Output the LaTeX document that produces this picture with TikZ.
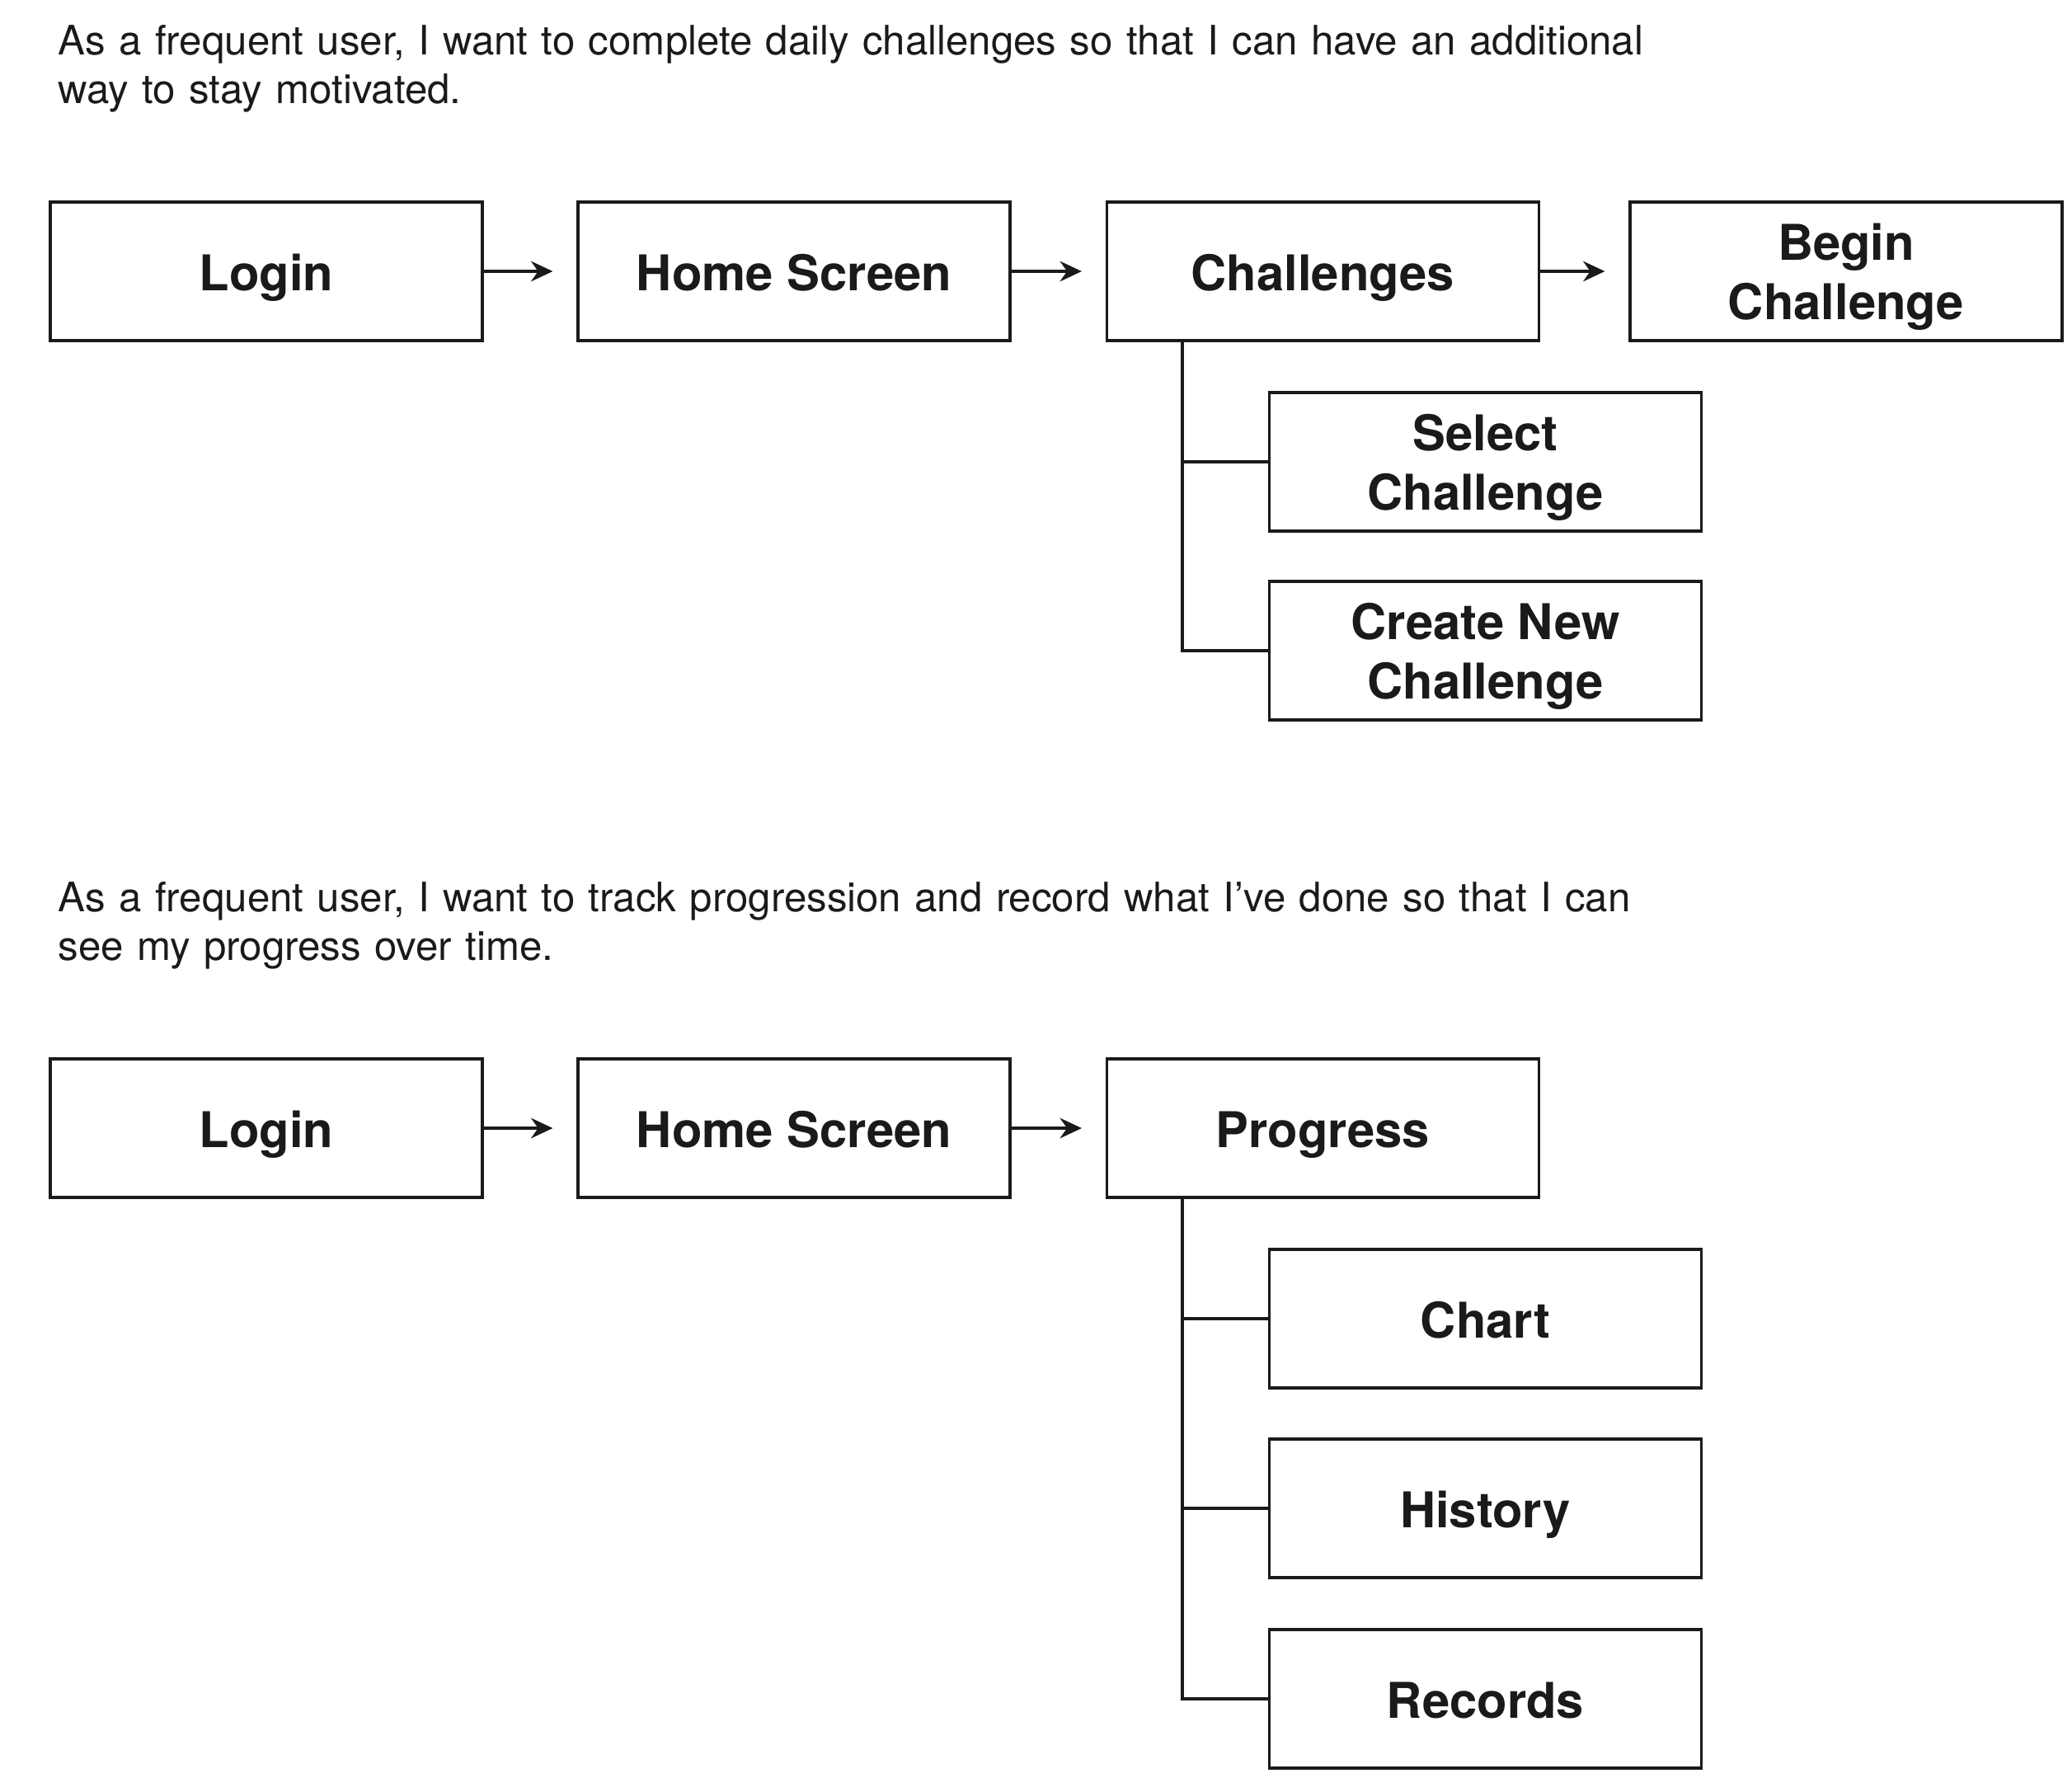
\documentclass[tikz,border=0pt]{standalone}
\usepackage{fontspec}
\setmainfont{TeX Gyre Heros}
\usetikzlibrary{arrows.meta}
\definecolor{ink}{HTML}{1A1A1A}

\begin{document}
\begin{tikzpicture}[screen/.style={rectangle, draw=ink, line width=0.9pt, minimum width=5.24cm,
                    minimum height=1.68cm, align=center, text=ink,
                    font=\fontsize{17}{20.5}\selectfont\bfseries,
                    text height=16.7pt, text depth=3.6pt},
                twoline/.style={screen, text height=37.1pt},
                story/.style={anchor=north west, inner sep=0pt, text width=21cm, align=left, text=ink,
                    font=\fontsize{14}{16.8}\selectfont},
                every edge/.style={draw=ink, line width=0.9pt, -{Stealth[length=7.5pt,width=7pt]}, shorten >=0.29cm},
                branch/.style={draw=ink, line width=0.9pt}]

                \useasboundingbox (0,0) rectangle (25.13,-21.55);

                % first story
                \node[story] (story1) at (0.70,-0.30) {As a frequent user, I want to complete daily challenges so that I can have an additional\\way to stay motivated.};

                \node[screen] (login1) at (3.23,-3.29) {Login};
                \node[screen] (home1) at (9.63,-3.29) {Home Screen};
                \node[screen] (chal) at (16.045,-3.29) {Challenges};
                \node[twoline] (begin) at (22.39,-3.29) {Begin\\Challenge};
                \node[twoline] (select) at (18.015,-5.60) {Select\\Challenge};
                \node[twoline] (create) at (18.015,-7.89) {Create New\\Challenge};

                \path (login1) edge (home1);
                \path (home1) edge (chal);
                \path (chal) edge (begin);

                \coordinate (trunk1) at ([xshift=0.93cm]chal.south west);
                \draw[branch] (trunk1) |- (select.west);
                \draw[branch] (trunk1) |- (create.west);

                % second story
                \node[story] (story2) at (0.70,-10.69) {As a frequent user, I want to track progression and record what I’ve done so that I can\\see my progress over time.};

                \node[screen] (login2) at (3.23,-13.68) {Login};
                \node[screen] (home2) at (9.63,-13.68) {Home Screen};
                \node[screen] (prog) at (16.045,-13.68) {Progress};
                \node[screen] (chart) at (18.015,-15.99) {Chart};
                \node[screen] (hist) at (18.015,-18.29) {History};
                \node[screen] (rec) at (18.015,-20.60) {Records};

                \path (login2) edge (home2);
                \path (home2) edge (prog);

                \coordinate (trunk2) at ([xshift=0.93cm]prog.south west);
                \draw[branch] (trunk2) |- (chart.west);
                \draw[branch] (trunk2) |- (hist.west);
                \draw[branch] (trunk2) |- (rec.west);
            \end{tikzpicture}
\end{document}
